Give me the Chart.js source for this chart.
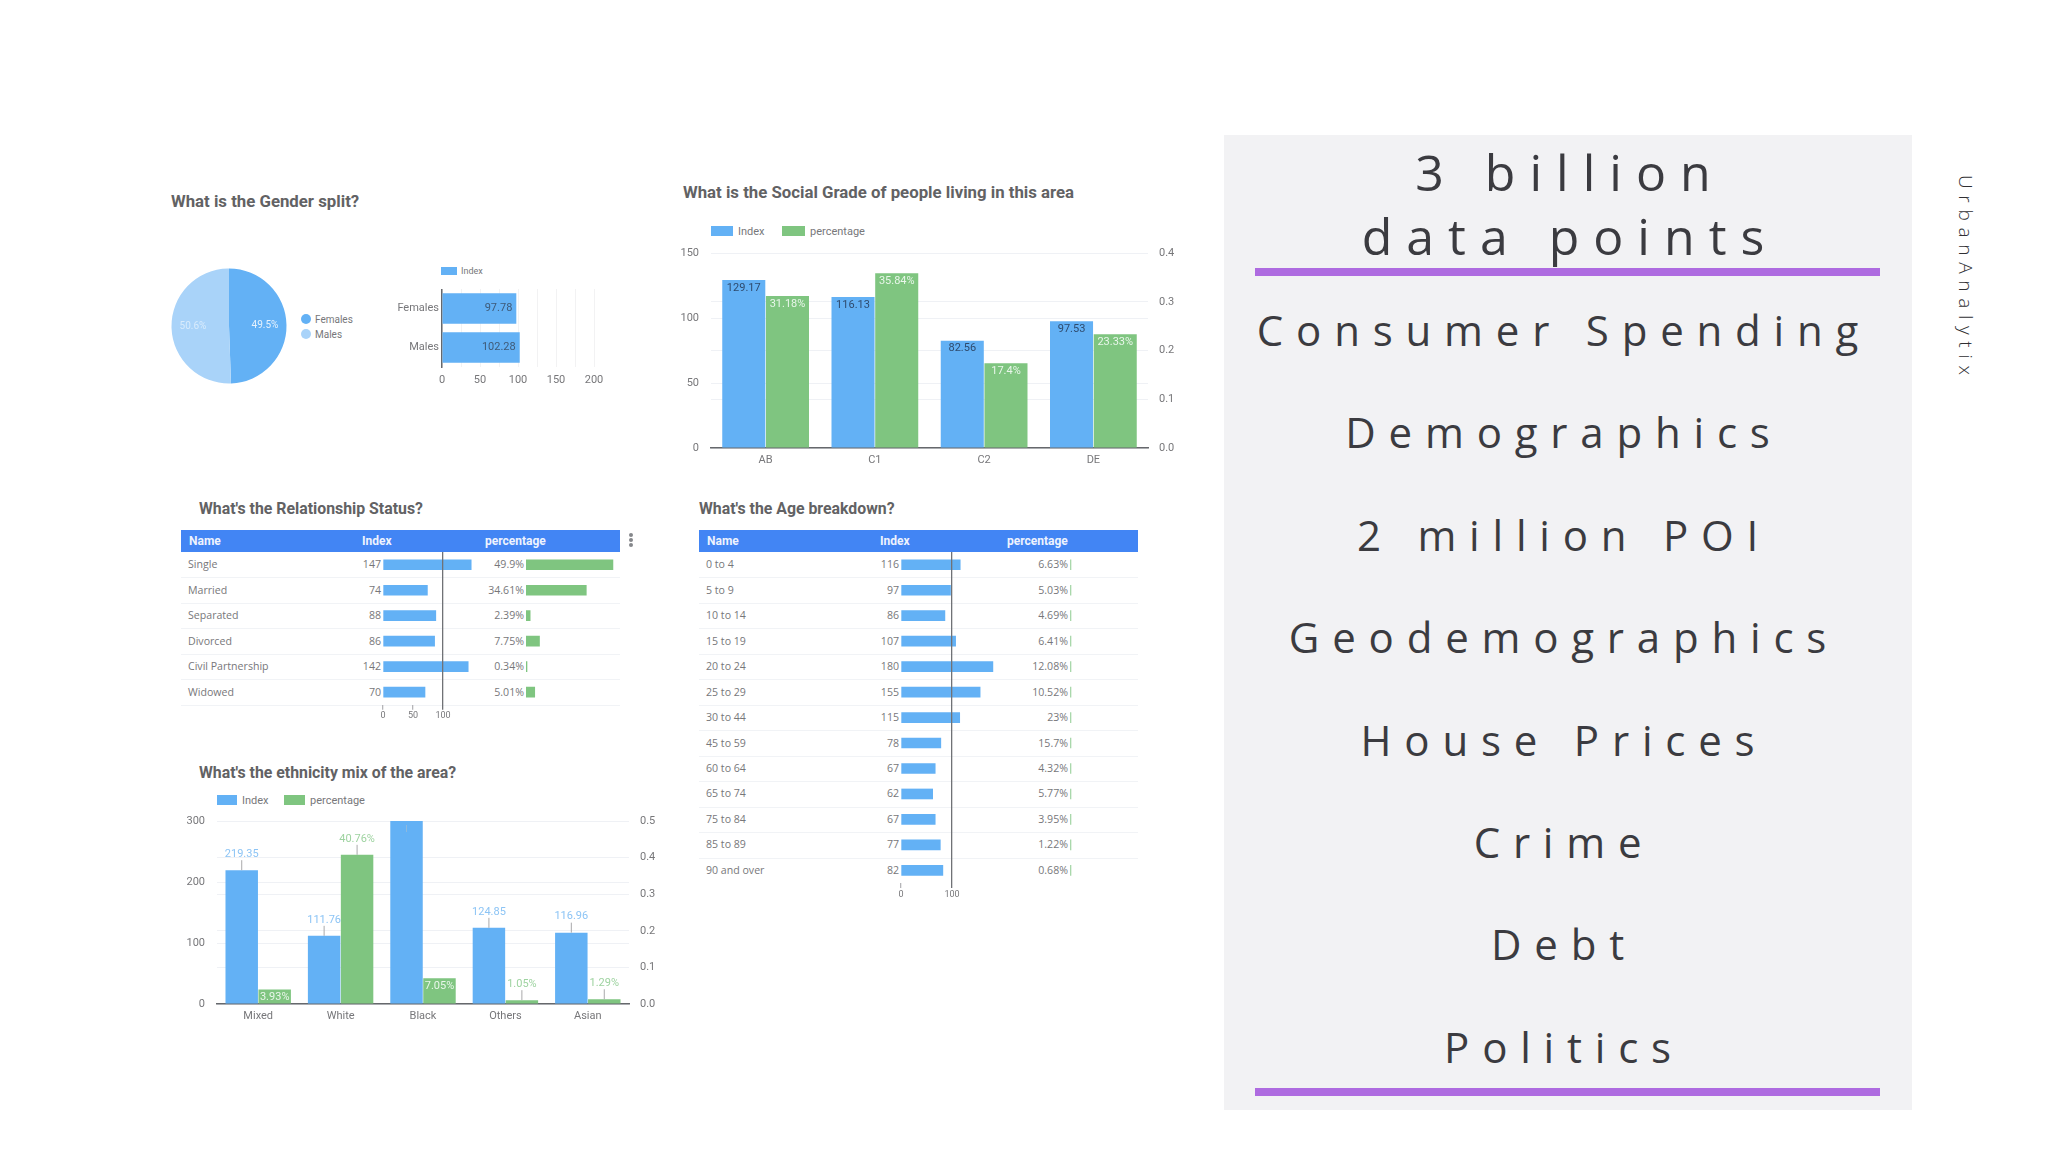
<!DOCTYPE html>
<html>
<head>
<meta charset="utf-8">
<title>UrbanAnalytix</title>
<script src="https://cdn.jsdelivr.net/npm/chart.js@4"></script>
<style>
    html, body { margin: 0; padding: 0; background: #fff; }
    #page { position: relative; width: 2048px; height: 1152px; overflow: hidden; font-family: Roboto, sans-serif; }
    #page canvas { position: absolute; }
    .title { position: absolute; font: 700 16px Roboto, sans-serif; color: #626264; white-space: nowrap; transform: translateY(-50%); }
    .txt { position: absolute; white-space: nowrap; transform: translateY(-50%); }
    .cell { font: 10.6px "Open Sans", sans-serif; color: #77777a; }
    .head { font: 700 12px Roboto, sans-serif; color: #eef3fe; }
    .legend { font: 11px Roboto, sans-serif; color: #77777a; }
    .box { position: absolute; }
    #panel { position: absolute; left: 1224px; top: 135px; width: 688px; height: 975px; background: #f2f2f4; }
    .big { position: absolute; width: 688px; text-align: center; font-family: "Open Sans", sans-serif; color: #3b3b40; white-space: nowrap; transform: translateY(-50%); }
    #brand { position: absolute; left: 1953px; top: 175px; writing-mode: vertical-rl; font: 300 19px "Open Sans", sans-serif; letter-spacing: 6.7px; color: #2f2f33; }
</style>
</head>
<body>
<div id="page"></div>
<script>
// =========================================================
//                          DATA
// =========================================================
const genderLabels = ['Females', 'Males'];
const genderShare = [49.45, 50.55];
const genderShareText = ['49.5%', '50.6%'];
const genderIndex = [97.78, 102.28];
const genderTicks = [0, 50, 100, 150, 200];

const gradeLabels = ['AB', 'C1', 'C2', 'DE'];
const gradeIndex = [129.17, 116.13, 82.56, 97.53];
const gradeShare = [0.3118, 0.3584, 0.174, 0.2333];
const gradeShareText = ['31.18%', '35.84%', '17.4%', '23.33%'];

const relationLabels = ['Single', 'Married', 'Separated', 'Divorced', 'Civil Partnership', 'Widowed'];
const relationIndex = [147, 74, 88, 86, 142, 70];
const relationShare = [49.9, 34.61, 2.39, 7.75, 0.34, 5.01];
const relationTicks = [0, 50, 100];

const ageLabels = ['0 to 4', '5 to 9', '10 to 14', '15 to 19', '20 to 24', '25 to 29', '30 to 44',
    '45 to 59', '60 to 64', '65 to 74', '75 to 84', '85 to 89', '90 and over'];
const ageIndex = [116, 97, 86, 107, 180, 155, 115, 78, 67, 62, 67, 77, 82];
const ageShare = [6.63, 5.03, 4.69, 6.41, 12.08, 10.52, 23, 15.7, 4.32, 5.77, 3.95, 1.22, 0.68];
const ageTicks = [0, 100];

const ethnicLabels = ['Mixed', 'White', 'Black', 'Others', 'Asian'];
const ethnicIndex = [219.35, 111.76, 300, 124.85, 116.96];
const ethnicIndexText = ['219.35', '111.76', null, '124.85', '116.96'];
const ethnicShare = [0.0393, 0.4076, 0.0705, 0.0105, 0.0129];
const ethnicShareText = ['3.93%', '40.76%', '7.05%', '1.05%', '1.29%'];
const ethnicShareMode = ['in', 'out', 'in', 'out', 'out'];

const panelHeading = ['3 billion', 'data points'];
const panelTopics = ['Consumer Spending', 'Demographics', '2 million POI', 'Geodemographics',
    'House Prices', 'Crime', 'Debt', 'Politics'];

// =========================================================
//                     SHARED SETTINGS
// =========================================================
const BLUE = '#63b1f5';
const GREEN = '#7fc580';
const GRID = '#eff1f5';
const TICK = '#77777a';
const AXIS = '#66686c';
const page = document.getElementById('page');

Chart.defaults.font.family = 'Roboto, sans-serif';
Chart.defaults.font.size = 11;
Chart.defaults.color = TICK;
Chart.defaults.animation = false;
Chart.defaults.responsive = false;
Chart.defaults.devicePixelRatio = 1;
Chart.defaults.plugins.legend.display = false;
Chart.defaults.plugins.tooltip.enabled = false;

function addText(cls, text, x, y, align) {
    const el = document.createElement('div');
    el.className = 'txt ' + cls;
    el.textContent = text;
    el.style.top = y + 'px';
    if (align === 'right') el.style.right = (2048 - x) + 'px';
    else el.style.left = x + 'px';
    page.appendChild(el);
    return el;
}

function addBox(x, y, w, h, color) {
    const el = document.createElement('div');
    el.className = 'box';
    el.style.cssText = `left:${x}px;top:${y}px;width:${w}px;height:${h}px;background:${color}`;
    page.appendChild(el);
    return el;
}

function addTitle(text, x, y, size) {
    const el = document.createElement('div');
    el.className = 'title';
    el.textContent = text;
    el.style.left = x + 'px';
    el.style.top = y + 'px';
    el.style.fontSize = size + 'px';
    page.appendChild(el);
}

function addCanvas(x, y, w, h) {
    const canvas = document.createElement('canvas');
    canvas.width = w;
    canvas.height = h;
    canvas.style.left = x + 'px';
    canvas.style.top = y + 'px';
    page.appendChild(canvas);
    return canvas;
}

function addLegend(y, items) {
    items.forEach(item => {
        addBox(item.x, y - 5, item.w, 10, item.color);
        addText('legend', item.text, item.x + item.w + 5, y);
    });
}

// Labels written on or above the bars, read from the text lists of each dataset
const barLabels = {
    id: 'barLabels',
    afterDatasetsDraw(chart) {
        const ctx = chart.ctx;
        chart.data.datasets.forEach((ds, i) => {
            if (!ds.labelText) return;
            chart.getDatasetMeta(i).data.forEach((bar, k) => {
                const mode = Array.isArray(ds.labelMode) ? ds.labelMode[k] : ds.labelMode;
                const text = ds.labelText[k];
                ctx.save();
                ctx.font = '11px Roboto, sans-serif';
                ctx.textAlign = 'center';
                ctx.textBaseline = 'middle';
                if (!text) {
                    // bar runs off the top of the axis, only the leader stays visible
                    ctx.strokeStyle = '#8fb9dd';
                    ctx.beginPath();
                    ctx.moveTo(bar.x, bar.y + 4);
                    ctx.lineTo(bar.x, bar.y + 11);
                    ctx.stroke();
                } else if (mode === 'out') {
                    ctx.strokeStyle = '#a9a9ab';
                    ctx.beginPath();
                    ctx.moveTo(bar.x, bar.y);
                    ctx.lineTo(bar.x, bar.y - 10);
                    ctx.stroke();
                    ctx.fillStyle = ds.backgroundColor === GREEN ? '#9ed3a0' : '#8cc4f5';
                    ctx.fillText(text, bar.x, bar.y - 16);
                } else if (mode === 'side') {
                    ctx.textAlign = 'right';
                    ctx.fillStyle = '#3f5a78';
                    ctx.fillText(text, bar.x - 4, bar.y);
                } else {
                    ctx.fillStyle = ds.labelColor;
                    ctx.fillText(text, bar.x, bar.y + 8);
                }
                ctx.restore();
            });
        });
    }
};

// =========================================================
//                     GENDER SPLIT
// =========================================================
function drawGender() {
    addTitle('What is the Gender split?', 171, 201, 16.8);

    new Chart(addCanvas(169, 266, 120, 120), {
        type: 'pie',
        data: {
            labels: genderLabels,
            datasets: [{
                data: genderShare,
                backgroundColor: [BLUE, '#a9d3f9'],
                borderWidth: 0
            }]
        },
        options: { radius: 57.5 },
        plugins: [{
            id: 'pieLabels',
            afterDatasetsDraw(chart) {
                const ctx = chart.ctx;
                chart.getDatasetMeta(0).data.forEach((arc, k) => {
                    const mid = (arc.startAngle + arc.endAngle) / 2;
                    ctx.save();
                    ctx.font = '10px Roboto, sans-serif';
                    ctx.textAlign = 'center';
                    ctx.textBaseline = 'middle';
                    ctx.fillStyle = k === 0 ? '#e6f2fd' : '#d8ebfc';
                    ctx.fillText(genderShareText[k], arc.x + Math.cos(mid) * 36, arc.y + Math.sin(mid) * 36);
                    ctx.restore();
                });
            }
        }]
    });

    [319, 334].forEach((y, k) => {
        const dot = addBox(301, y - 5, 10, 10, k === 0 ? BLUE : '#a9d3f9');
        dot.style.borderRadius = '50%';
        addText('legend', genderLabels[k], 315, y).style.fontSize = '10px';
    });

    addBox(441, 267, 16, 8, BLUE);
    addText('legend', 'Index', 461, 271).style.fontSize = '9px';

    new Chart(addCanvas(382, 289, 230, 100), {
        type: 'bar',
        data: {
            labels: genderLabels,
            datasets: [{
                data: genderIndex,
                backgroundColor: BLUE,
                categoryPercentage: 0.78,
                barPercentage: 1,
                labelText: genderIndex.map(v => v.toFixed(2)),
                labelMode: 'side'
            }]
        },
        options: {
            indexAxis: 'y',
            layout: { padding: { right: 18 } },
            scales: {
                x: {
                    min: 0, max: 200,
                    ticks: {
                        stepSize: 25, autoSkip: false, maxRotation: 0, padding: 7,
                        callback: v => genderTicks.includes(v) ? v : ''
                    },
                    grid: { color: '#f2f2f3', drawTicks: false },
                    border: { display: false },
                    afterFit: s => { s.height = 22; s.paddingLeft = 0; s.paddingRight = 0; }
                },
                y: {
                    ticks: { padding: 3, font: { size: 11 } },
                    grid: { display: false, drawTicks: false },
                    border: { color: AXIS, width: 1.5 },
                    afterFit: s => { s.width = 60; s.paddingTop = 0; s.paddingBottom = 0; }
                }
            }
        },
        plugins: [barLabels]
    });
}

// =========================================================
//            COLUMN CHARTS WITH TWO Y AXES
// =========================================================
function drawColumns(box, labels, indexSet, shareSet, leftMax, leftStep, rightMax) {
    const topPad = 8, bottom = 24, side = 40;
    const w = box.w + side * 2, h = box.h + topPad + bottom;
    new Chart(addCanvas(box.x - side, box.y - topPad, w, h), {
        type: 'bar',
        data: { labels: labels, datasets: [indexSet, shareSet] },
        options: {
            layout: { padding: { top: topPad } },
            datasets: { bar: { categoryPercentage: 0.8, barPercentage: 0.985 } },
            scales: {
                x: {
                    ticks: { padding: 6, maxRotation: 0, color: TICK },
                    grid: { display: false, drawTicks: false },
                    border: { color: AXIS, width: 1.5 },
                    afterFit: s => { s.height = bottom; s.paddingLeft = 0; s.paddingRight = 0; }
                },
                y: {
                    position: 'left', min: 0, max: leftMax,
                    ticks: { stepSize: leftStep, padding: 12 },
                    grid: { color: GRID, drawTicks: false },
                    border: { display: false },
                    afterFit: s => { s.width = side; s.paddingTop = 0; s.paddingBottom = 0; }
                },
                y1: {
                    position: 'right', min: 0, max: rightMax,
                    ticks: { stepSize: 0.1, padding: 11, callback: v => v.toFixed(1) },
                    grid: { color: GRID, drawTicks: false },
                    border: { display: false },
                    afterFit: s => { s.width = side; s.paddingTop = 0; s.paddingBottom = 0; }
                }
            }
        },
        plugins: [barLabels]
    });
}

function drawGrade() {
    addTitle('What is the Social Grade of people living in this area', 683, 192, 16.8);
    addLegend(231, [
        { x: 711, w: 22, color: BLUE, text: 'Index' },
        { x: 782, w: 23, color: GREEN, text: 'percentage' }
    ]);
    drawColumns({ x: 711, y: 253, w: 437, h: 195 }, gradeLabels,
        { data: gradeIndex, backgroundColor: BLUE, yAxisID: 'y',
          labelText: gradeIndex.map(String), labelMode: 'in', labelColor: '#2f4b6e' },
        { data: gradeShare, backgroundColor: GREEN, yAxisID: 'y1',
          labelText: gradeShareText, labelMode: 'in', labelColor: '#e9f6ea' },
        150, 50, 0.4);
}

function drawEthnic() {
    addTitle("What's the ethnicity mix of the area?", 199, 772, 15.85);
    addLegend(800, [
        { x: 217, w: 20, color: BLUE, text: 'Index' },
        { x: 284, w: 21, color: GREEN, text: 'percentage' }
    ]);
    drawColumns({ x: 217, y: 821, w: 412, h: 183 }, ethnicLabels,
        { data: ethnicIndex, backgroundColor: BLUE, yAxisID: 'y',
          labelText: ethnicIndexText, labelMode: 'out', labelColor: '#fff' },
        { data: ethnicShare, backgroundColor: GREEN, yAxisID: 'y1',
          labelText: ethnicShareText, labelMode: ethnicShareMode, labelColor: '#e9f6ea' },
        300, 100, 0.5);
}

// =========================================================
//                 TABLES WITH INLINE BARS
// =========================================================
const ROW_H = 25.47;
const TABLE_TOP = 552;

function drawTable(t) {
    addTitle(t.title, t.titleX, 508, 15.85);

    addBox(t.x, 530, t.w, 22, '#4285f4');
    addText('head', 'Name', t.x + 8, 541);
    addText('head', 'Index', t.indexHeadX, 541);
    addText('head', 'percentage', t.shareHeadX, 541);

    const plotH = ROW_H * t.labels.length;
    t.labels.forEach((name, k) => {
        const mid = TABLE_TOP + ROW_H * (k + 0.5) - 0.5;
        addText('cell', name, t.x + 7, mid);
        addText('cell', t.index[k], t.indexX - 2, mid, 'right');
        addText('cell', t.share[k] + '%', t.shareX - 2, mid, 'right');
        if (k < t.labels.length - 1 || t.lastLine) {
            addBox(t.x, Math.round(TABLE_TOP + ROW_H * (k + 1)), t.w, 1, '#f1f3f6');
        }
    });

    // Index column, with its small axis and the reference line at 100
    const pad = 12;
    const indexW = t.indexMax * t.indexScale;
    const canvasH = Math.ceil(plotH) + 24;
    new Chart(addCanvas(t.indexX - pad, TABLE_TOP, indexW + pad * 2, canvasH), {
        type: 'bar',
        data: {
            labels: t.labels,
            datasets: [{ data: t.index, backgroundColor: BLUE, barThickness: 10 }]
        },
        options: {
            indexAxis: 'y',
            layout: { padding: { left: pad, right: pad } },
            scales: {
                x: {
                    min: 0, max: t.indexMax,
                    afterBuildTicks: s => { s.ticks = t.ticks.map(v => ({ value: v })); },
                    ticks: { autoSkip: false, maxRotation: 0, padding: 1, font: { size: 9 } },
                    grid: {
                        z: 1,
                        tickLength: 5,
                        lineWidth: 1.3,
                        tickColor: ctx => ctx.tick.value === 100 ? '#707276' : '#b5b5b8',
                        color: ctx => ctx.tick.value === 100 ? '#707276' : 'transparent'
                    },
                    border: { display: false },
                    afterFit: s => { s.height = canvasH - plotH; s.paddingLeft = 0; s.paddingRight = 0; }
                },
                y: { display: false }
            }
        }
    });

    // percentage column
    const shareH = Math.ceil(plotH);
    new Chart(addCanvas(t.shareX, TABLE_TOP, t.shareW, shareH), {
        type: 'bar',
        data: {
            labels: t.labels,
            datasets: [{ data: t.share, backgroundColor: t.shareColor, barThickness: 10, minBarLength: 1 }]
        },
        options: {
            indexAxis: 'y',
            layout: { padding: { bottom: shareH - plotH } },
            scales: {
                x: { display: false, min: 0, max: t.shareMax },
                y: { display: false }
            }
        }
    });
}

function drawMenuDots() {
    [535, 540, 545].forEach(y => {
        addBox(629, y - 2, 4, 4, '#85878b').style.borderRadius = '50%';
    });
}

// =========================================================
//                     RIGHT HAND PANEL
// =========================================================
function addBig(text, x, y, size, spacing) {
    const el = document.createElement('div');
    el.className = 'big';
    el.textContent = text;
    el.style.left = x + 'px';
    el.style.top = y + 'px';
    el.style.fontSize = size + 'px';
    el.style.letterSpacing = spacing + 'px';
    page.appendChild(el);
}

function drawPanel() {
    const panel = document.createElement('div');
    panel.id = 'panel';
    page.appendChild(panel);

    addBox(1255, 268, 625, 8, '#ae6be0');
    addBox(1255, 1088, 625, 8, '#ae6be0');

    [172, 236].forEach((y, k) => addBig(panelHeading[k], 1226, y, 50, 14));
    [329, 431, 534, 636, 739, 841, 943, 1046].forEach((y, k) => addBig(panelTopics[k], 1220, y, 42, 12.8));

    const brand = document.createElement('div');
    brand.id = 'brand';
    brand.textContent = 'UrbanAnalytix';
    page.appendChild(brand);
}

// =========================================================
//                          START
// =========================================================
drawGender();
drawGrade();
drawTable({
    title: "What's the Relationship Status?", titleX: 199,
    x: 181, w: 439, labels: relationLabels, index: relationIndex, share: relationShare,
    ticks: relationTicks, indexHeadX: 362, shareHeadX: 485, lastLine: true,
    indexX: 383, indexMax: 150, indexScale: 0.6,
    shareX: 526, shareW: 100, shareMax: 57.4, shareColor: GREEN
});
drawMenuDots();
drawTable({
    title: "What's the Age breakdown?", titleX: 699,
    x: 699, w: 439, labels: ageLabels, index: ageIndex, share: ageShare,
    ticks: ageTicks, indexHeadX: 880, shareHeadX: 1007, lastLine: false,
    indexX: 901, indexMax: 190, indexScale: 0.515,
    shareX: 1070, shareW: 10, shareMax: 400, shareColor: '#a9d8ab'
});
drawEthnic();
drawPanel();
</script>
</body>
</html>
